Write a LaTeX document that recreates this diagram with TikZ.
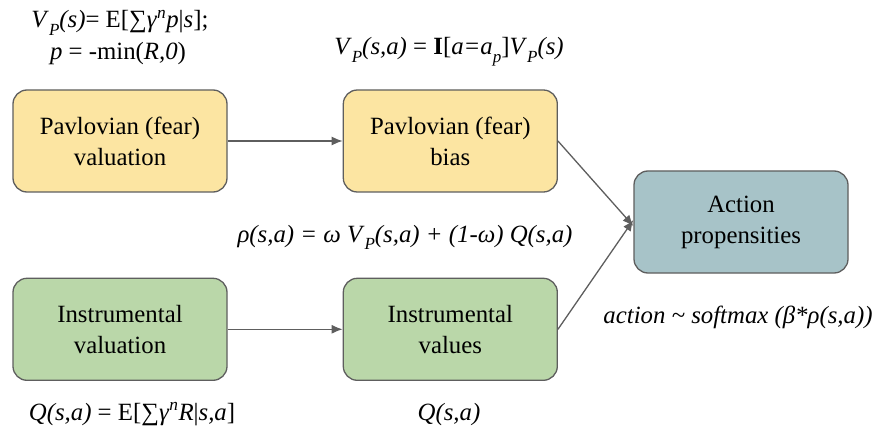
\documentclass[tikz,border=0pt]{standalone}
\usepackage{fontspec}
\setmainfont{Liberation Serif}
\usepackage{tikz}
\usetikzlibrary{arrows.meta,positioning}
\definecolor{fearfill}{HTML}{FCE5A2}
\definecolor{instfill}{HTML}{BAD7A9}
\definecolor{actfill}{HTML}{A7C3C8}
\definecolor{edgegray}{HTML}{5E5E5E}
\newcommand{\ivar}[1]{\textit{#1}}
\newcommand{\isub}[1]{\raisebox{-0.32em}{\fontsize{17}{17}\selectfont\textit{#1}}}

\begin{document}
\begin{tikzpicture}[
  x=1pt, y=-1pt,
  font=\fontsize{24.8}{31}\selectfont, node distance=115pt,
  b/.style={draw=edgegray, line width=1.3pt, rounded corners=14pt, align=center, minimum width=214pt, minimum height=102pt, inner sep=3pt},
  eq/.style={anchor=base, inner sep=0pt},
  pf/.style={draw=edgegray, line width=1.3pt, -{Latex[length=11pt,width=9pt]}}
]
\useasboundingbox (0,0) rectangle (877,430);
\node[b, fill=fearfill] (pval) at (120,141) {Pavlovian (fear)\\valuation};
\node[b, fill=fearfill, right=of pval] (pbias) {Pavlovian (fear)\\bias};
\node[b, fill=instfill, below=85pt of pval] (ival) {Instrumental\\valuation};
\node[b, fill=instfill, below=85pt of pbias] (ivals) {Instrumental\\values};
\node[b, fill=actfill] (act) at (741,222) {Action\\propensities};
% formulas
\node[eq] (vps) at (120,28) {\ivar{V}\isub{P}\ivar{(s)}= E[∑\ivar{γ}\textsuperscript{\ivar{n}}\ivar{p}|\ivar{s}];};
\node[eq] (pmin) at (118,60) {\ivar{p} = -min(\ivar{R,0})};
\node[eq] (vpsa) at (449,55) {\ivar{V}\isub{P}\ivar{(s,a)} = \textbf{I}[\ivar{a=a}\isub{p}]\ivar{V}\isub{P}\ivar{(s)}};
\node[eq] (rho) at (405,242) {\ivar{ρ(s,a) = ω V}\isub{P}\ivar{(s,a) + (1-ω) Q(s,a)}};
\node[eq] (soft) at (738,323) {\ivar{action \textasciitilde\ softmax (β*ρ(s,a))}};
\node[eq] (qdef) at (132,420) {\ivar{Q(s,a)} = E[∑\ivar{γ}\textsuperscript{\ivar{n}}\ivar{R}|\ivar{s,a}]};
\node[eq] (qsa) at (449,420) {\ivar{Q(s,a)}};
\draw[pf] (pval)--(pbias); \draw[pf] (ival)--(ivals);
\draw[pf] (pbias.east)--([yshift=-4pt]act.west); \draw[pf] (ivals.east)--([yshift=2pt]act.west);
\end{tikzpicture}
\end{document}
